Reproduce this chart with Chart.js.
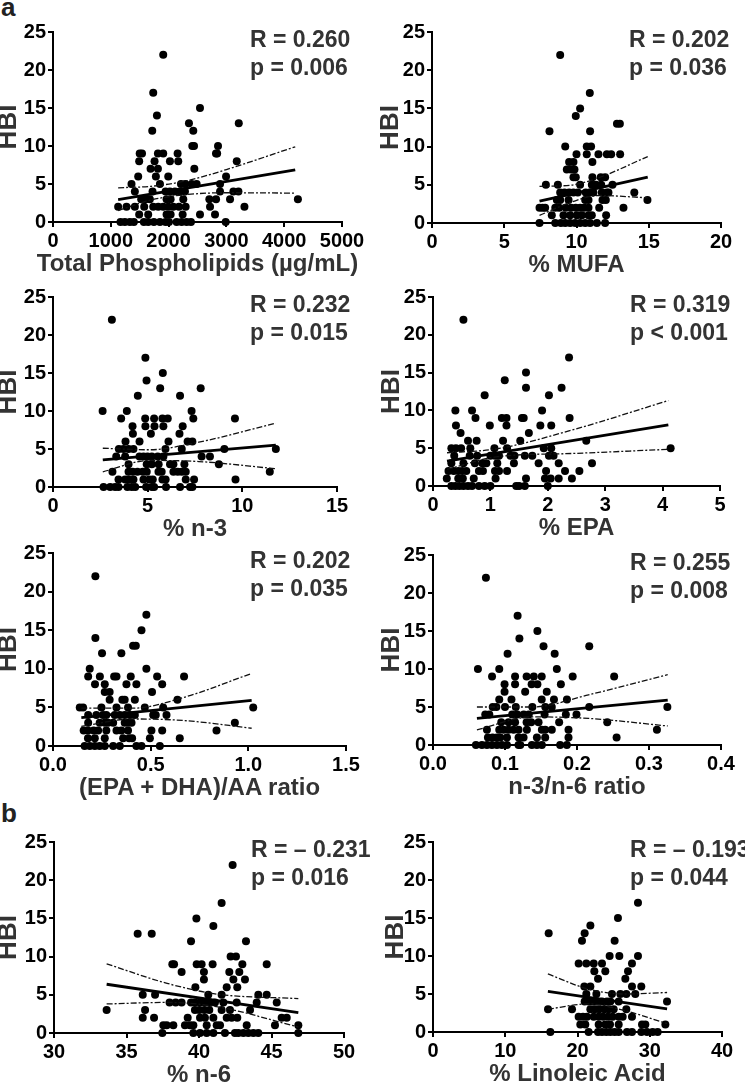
<!DOCTYPE html>
<html>
<head>
<meta charset="utf-8">
<script src="https://cdn.jsdelivr.net/npm/chart.js@4"></script>
<style>
  body { margin: 0; width: 745px; height: 1082px; overflow: hidden; background: #fff; position: relative;
         font-family: "Liberation Sans", Arial, sans-serif; }
  canvas { position: absolute; }
  .stat { position: absolute; font-weight: bold; font-size: 23px; line-height: 28px; color: #333; white-space: nowrap; }
  .xtitle { position: absolute; font-weight: bold; font-size: 24px; line-height: 24px; color: #333;
            white-space: nowrap; transform: translateX(-50%); }
  .tag { position: absolute; font-weight: bold; font-size: 26px; line-height: 26px; color: #222; }
</style>
</head>
<body>
<div class="tag" style="left:1px; top:-6px">a</div>
<div class="tag" style="left:1px; top:800px">b</div>

<script>
// ---- HBI values and the fatty acid measures they are plotted against ----

// Total phospholipids (ug/mL)
const phosX = [1907, 1734, 2543, 1798, 2352, 3214, 1717, 2427, 2410, 2440, 2855,
  1500, 1540, 1815, 1907, 2156, 2820, 2840,
  1491, 1757, 2023, 2167, 3179,
  1688, 1815, 2445,
  1474, 1780, 1994, 2994,
  1358, 1850, 2214, 2289, 2399, 2485, 2890,
  1416, 1722, 1948, 2023, 2110, 2196, 2283, 2890, 3121, 3208,
  1526, 1601, 1676, 1965, 2035, 2254, 2705, 2821, 3063, 4237,
  1127, 1272, 1416, 1578, 1734, 1821, 1907, 1994, 2081, 2179, 2295, 2717, 3312,
  1491, 1647, 1965, 2035, 2243, 2543, 2803,
  1168, 1243, 1330, 1399, 1572, 1647, 1745, 1850, 1948, 2006, 2139, 2225, 2312, 2387, 2988];
const phosY = [22, 17, 15, 14, 13, 13, 12, 12, 10, 10, 10,
  9, 9, 9, 9, 9, 9, 9,
  8, 8, 8, 8, 8,
  7, 7, 7,
  6, 6, 6, 6,
  5, 5, 5, 5, 5, 5, 5,
  4, 4, 4, 4, 4, 4, 4, 4, 4, 4,
  3, 3, 3, 3, 3, 3, 3, 3, 3, 3,
  2, 2, 2, 2, 2, 2, 2, 2, 2, 2, 2, 2, 2,
  1, 1, 1, 1, 1, 1, 1,
  0, 0, 0, 0, 0, 0, 0, 0, 0, 0, 0, 0, 0, 0, 0];
const phosFitX = [1127, 4191];
const phosFitY = [2.95, 6.86];
const phosBandX = [1127, 1700, 2300, 3000, 4191];
const phosUpY = [4.5, 4.7, 5.4, 6.9, 9.9];
const phosLoY = [1.5, 2.9, 3.6, 3.85, 3.8];

// % MUFA
const mufaX = [8.87, 10.92, 10.25, 9.95, 12.8, 13.0, 8.13, 10.94, 9.22, 10.71, 11.01,
  10.0, 10.71, 11.52, 12.1, 12.4, 13.02,
  9.49, 9.79, 11.1,
  9.33, 9.61, 9.86,
  9.79, 9.95, 11.1, 11.68, 11.98,
  7.88, 8.71, 10.25, 11.06, 11.34, 11.71, 12.49,
  8.87, 9.17, 9.49, 9.79, 10.09, 10.64, 10.94, 11.17, 11.75, 12.1, 12.21, 14.0,
  8.64, 8.87, 9.45, 10.6, 10.83, 11.8, 12.03, 14.91,
  7.44, 7.65, 7.83, 8.53, 8.8, 9.26, 9.63, 9.95, 10.25, 10.53, 10.83, 11.57, 13.25,
  8.29, 9.1, 9.56, 10.02, 10.37, 10.83, 11.06, 12.05,
  7.44, 8.53, 8.92, 9.22, 9.56, 9.91, 10.25, 10.6, 10.94, 11.41, 11.98];
const mufaY = [22, 17, 15, 14, 13, 13, 12, 12, 10, 10, 10,
  9, 9, 9, 9, 9, 9,
  8, 8, 8,
  7, 7, 7,
  6, 6, 6, 6, 6,
  5, 5, 5, 5, 5, 5, 5,
  4, 4, 4, 4, 4, 4, 4, 4, 4, 4, 4, 4,
  3, 3, 3, 3, 3, 3, 3, 3,
  2, 2, 2, 2, 2, 2, 2, 2, 2, 2, 2, 2, 2,
  1, 1, 1, 1, 1, 1, 1, 1,
  0, 0, 0, 0, 0, 0, 0, 0, 0, 0, 0];
const mufaFitX = [7.44, 14.93];
const mufaFitY = [2.85, 6.0];
const mufaBandX = [7.44, 9.6, 11.5, 14.93];
const mufaUpY = [4.8, 4.95, 5.9, 8.7];
const mufaLoY = [1.0, 2.7, 3.6, 3.3];

// % n-3
const n3X = [3.11, 4.88, 5.8, 4.94, 5.66, 7.8, 4.48, 6.71, 2.62, 3.9, 7.32,
  3.6, 4.87, 5.34, 5.78, 6.06, 7.41, 9.61,
  4.2, 4.88, 5.36, 5.83, 6.85,
  4.22, 5.17, 6.68,
  3.83, 4.57, 6.1, 7.11, 7.36,
  3.48, 3.72, 3.99, 4.25, 5.94, 6.8, 9.05, 11.77,
  3.34, 3.81, 4.57, 4.78, 4.99, 5.22, 5.53, 5.83, 7.85, 8.29,
  3.99, 4.95, 5.22, 5.58, 6.18, 6.36, 6.94, 8.76,
  3.14, 3.99, 4.21, 4.46, 4.74, 4.95, 5.57, 5.74, 6.36, 6.59, 6.8, 7.01, 11.45,
  3.46, 3.81, 3.99, 4.25, 4.78, 5.09, 5.27, 5.78, 5.95, 7.01, 7.45, 9.64,
  2.67, 3.02, 3.28, 3.46, 3.93, 4.16, 4.34, 4.92, 5.22, 5.34, 5.97, 6.71, 7.24, 7.36];
const n3Y = [22, 17, 15, 14, 13, 13, 12, 12, 10, 10, 10,
  9, 9, 9, 9, 9, 9, 9,
  8, 8, 8, 8, 8,
  7, 7, 7,
  6, 6, 6, 6, 6,
  5, 5, 5, 5, 5, 5, 5, 5,
  4, 4, 4, 4, 4, 4, 4, 4, 4, 4,
  3, 3, 3, 3, 3, 3, 3, 3,
  2, 2, 2, 2, 2, 2, 2, 2, 2, 2, 2, 2, 2,
  1, 1, 1, 1, 1, 1, 1, 1, 1, 1, 1, 1,
  0, 0, 0, 0, 0, 0, 0, 0, 0, 0, 0, 0, 0, 0];
const n3FitX = [2.63, 11.77];
const n3FitY = [3.57, 5.52];
const n3BandX = [2.63, 5.1, 7.7, 11.77];
const n3UpY = [5.1, 4.9, 5.9, 8.4];
const n3LoY = [2.0, 3.5, 3.35, 2.4];

// % EPA
const epaX = [0.53, 2.37, 1.62, 1.25, 1.62, 2.24, 0.9, 2.02, 0.39, 0.68, 1.9,
  0.74, 1.2, 1.28, 1.55, 1.58, 2.38,
  0.4, 0.99, 1.28, 1.87, 2.06,
  0.48, 1.67,
  0.61, 0.76, 1.22, 1.52, 2.67,
  0.32, 0.4, 0.49, 0.65, 1.07, 1.29, 1.93, 2.06, 4.14,
  0.37, 0.64, 0.77, 1.0, 1.08, 1.15, 1.35, 1.42, 1.6, 1.73, 2.02, 2.1,
  0.32, 0.53, 0.73, 0.86, 0.93, 1.12, 1.41, 1.84, 2.19, 2.77,
  0.27, 0.36, 0.44, 0.51, 0.58, 0.8, 0.87, 1.08, 1.15, 1.29, 1.97, 2.3, 2.55,
  0.24, 0.44, 0.52, 0.71, 1.09, 1.62, 1.95, 2.05, 2.19, 2.42,
  0.32, 0.39, 0.46, 0.53, 0.61, 0.68, 0.8, 0.9, 1.0, 1.45, 1.5, 1.6, 2.0];
const epaY = [22, 17, 15, 14, 13, 13, 12, 12, 10, 10, 10,
  9, 9, 9, 9, 9, 9,
  8, 8, 8, 8, 8,
  7, 7,
  6, 6, 6, 6, 6,
  5, 5, 5, 5, 5, 5, 5, 5, 5,
  4, 4, 4, 4, 4, 4, 4, 4, 4, 4, 4, 4,
  3, 3, 3, 3, 3, 3, 3, 3, 3, 3,
  2, 2, 2, 2, 2, 2, 2, 2, 2, 2, 2, 2, 2,
  1, 1, 1, 1, 1, 1, 1, 1, 1, 1,
  0, 0, 0, 0, 0, 0, 0, 0, 0, 0, 0, 0, 0];
const epaFitX = [0.244, 4.1];
const epaFitY = [3.3, 8.1];
const epaBandX = [0.244, 1.1, 2.42, 4.1];
const epaUpY = [4.4, 4.9, 7.4, 11.3];
const epaLoY = [2.2, 3.85, 4.3, 4.85];

// (EPA + DHA)/AA ratio
const ratioX = [0.217, 0.478, 0.453, 0.217, 0.41, 0.424, 0.251, 0.35, 0.188, 0.478,
  0.18, 0.24, 0.313, 0.325, 0.398, 0.533, 0.671,
  0.215, 0.265, 0.376, 0.427, 0.559,
  0.265, 0.29, 0.507,
  0.29, 0.355, 0.367, 0.419, 0.637,
  0.137, 0.154, 0.248, 0.325, 0.384, 0.47, 0.564, 1.025,
  0.18, 0.222, 0.256, 0.273, 0.316, 0.342, 0.367, 0.393, 0.419, 0.513, 0.526, 0.581,
  0.18, 0.239, 0.265, 0.282, 0.308, 0.367, 0.384, 0.402, 0.931,
  0.157, 0.179, 0.208, 0.231, 0.273, 0.325, 0.35, 0.384, 0.504, 0.559, 0.837,
  0.179, 0.214, 0.265, 0.359, 0.39, 0.405, 0.496, 0.649,
  0.162, 0.188, 0.214, 0.239, 0.265, 0.308, 0.342, 0.427, 0.453, 0.547];
const ratioY = [22, 17, 15, 14, 13, 13, 12, 12, 10, 10,
  9, 9, 9, 9, 9, 9, 9,
  8, 8, 8, 8, 8,
  7, 7, 7,
  6, 6, 6, 6, 6,
  5, 5, 5, 5, 5, 5, 5, 5,
  4, 4, 4, 4, 4, 4, 4, 4, 4, 4, 4, 4,
  3, 3, 3, 3, 3, 3, 3, 3, 3,
  2, 2, 2, 2, 2, 2, 2, 2, 2, 2, 2,
  1, 1, 1, 1, 1, 1, 1, 1,
  0, 0, 0, 0, 0, 0, 0, 0, 0, 0];
const ratioFitX = [0.145, 1.017];
const ratioFitY = [3.67, 5.9];
const ratioBandX = [0.145, 0.41, 0.67, 1.017];
const ratioUpY = [4.9, 4.9, 6.3, 9.4];
const ratioLoY = [2.55, 3.5, 3.3, 2.3];

// n-3/n-6 ratio
const n3n6X = [0.0735, 0.1175, 0.145, 0.12, 0.1535, 0.217, 0.1036, 0.169, 0.0624, 0.092, 0.172,
  0.082, 0.114, 0.13, 0.14, 0.151, 0.194, 0.2516,
  0.0994, 0.114, 0.137, 0.145, 0.1776,
  0.0994, 0.128, 0.158,
  0.092, 0.109, 0.151, 0.168, 0.186,
  0.083, 0.088, 0.1, 0.115, 0.138, 0.156, 0.165, 0.217, 0.3255,
  0.0726, 0.0782, 0.11, 0.117, 0.126, 0.133, 0.155, 0.1845, 0.1993,
  0.0948, 0.105, 0.114, 0.13, 0.1364, 0.1466, 0.1752, 0.242,
  0.0749, 0.092, 0.098, 0.1049, 0.1119, 0.1188, 0.1304, 0.1512, 0.1558, 0.165, 0.1882, 0.311,
  0.0763, 0.0828, 0.0888, 0.0934, 0.1027, 0.1188, 0.1258, 0.1443, 0.1558, 0.1882, 0.255,
  0.0596, 0.068, 0.0749, 0.0819, 0.0888, 0.0957, 0.1027, 0.1188, 0.1212, 0.1373, 0.1443, 0.1512, 0.1766, 0.1859];
const n3n6Y = [22, 17, 15, 14, 13, 13, 12, 12, 10, 10, 10,
  9, 9, 9, 9, 9, 9, 9,
  8, 8, 8, 8, 8,
  7, 7, 7,
  6, 6, 6, 6, 6,
  5, 5, 5, 5, 5, 5, 5, 5, 5,
  4, 4, 4, 4, 4, 4, 4, 4, 4,
  3, 3, 3, 3, 3, 3, 3, 3,
  2, 2, 2, 2, 2, 2, 2, 2, 2, 2, 2, 2,
  1, 1, 1, 1, 1, 1, 1, 1, 1, 1, 1,
  0, 0, 0, 0, 0, 0, 0, 0, 0, 0, 0, 0, 0, 0];
const n3n6FitX = [0.061, 0.326];
const n3n6FitY = [3.5, 5.9];
const n3n6BandX = [0.061, 0.138, 0.216, 0.326];
const n3n6UpY = [5.0, 5.0, 6.6, 9.25];
const n3n6LoY = [2.0, 3.7, 3.5, 2.5];

// % n-6
const n6X = [42.32, 41.56, 39.82, 40.99, 35.77, 36.74, 39.45, 43.24, 42.18, 42.55,
  38.16, 38.28, 39.84, 40.18, 40.94, 42.99, 44.67,
  38.8, 40.34, 42.09, 42.78,
  40.34, 42.37, 43.17,
  39.75, 41.91, 42.64,
  36.12, 36.97, 40.64, 41.56, 44.09, 44.67,
  37.97, 38.39, 38.8, 39.45, 39.72, 40.07, 40.41, 40.76, 41.1, 41.68, 42.6, 43.98, 45.36,
  33.63, 36.28, 39.72, 40.02, 40.37, 40.71, 41.56, 42.14, 43.52,
  36.12, 36.9, 39.22, 40.07, 40.41, 40.99, 41.91, 42.25, 42.64, 45.7, 46.05,
  37.54, 37.77, 38.23, 39.03, 39.38, 39.61, 40.53, 41.22, 41.45, 43.29, 45.24, 46.85,
  37.47, 39.61, 40.07, 40.53, 40.99, 41.79, 42.48, 42.71, 43.06, 43.4, 43.75, 44.09, 46.85];
const n6Y = [22, 17, 15, 14, 13, 13, 12, 12, 10, 10,
  9, 9, 9, 9, 9, 9, 9,
  8, 8, 8, 8,
  7, 7, 7,
  6, 6, 6,
  5, 5, 5, 5, 5, 5,
  4, 4, 4, 4, 4, 4, 4, 4, 4, 4, 4, 4, 4,
  3, 3, 3, 3, 3, 3, 3, 3, 3,
  2, 2, 2, 2, 2, 2, 2, 2, 2, 2, 2,
  1, 1, 1, 1, 1, 1, 1, 1, 1, 1, 1, 1,
  0, 0, 0, 0, 0, 0, 0, 0, 0, 0, 0, 0, 0];
const n6FitX = [33.63, 46.85];
const n6FitY = [6.38, 2.67];
const n6BandX = [33.63, 37.8, 41.2, 46.85];
const n6UpY = [9.05, 6.5, 5.1, 4.5];
const n6LoY = [3.8, 4.0, 3.45, 0.78];

// % Linoleic acid
const laX = [28.37, 25.6, 21.78, 16.01, 20.99, 20.62, 25.14, 24.45, 25.79, 28.37,
  20.16, 21.22, 22.24, 23.39, 27.54,
  22.33, 23.85, 26.99,
  22.84, 26.62,
  20.94, 21.78, 27.54, 28.83,
  21.22, 22.61, 24.77, 25.93, 26.76, 28.0,
  20.99, 21.54, 22.14, 22.7, 23.39, 24.08, 24.54, 25.7, 32.39,
  15.92, 19.24, 21.78, 22.38, 23.0, 23.7, 24.31, 25.01, 26.76,
  20.16, 20.76, 21.31, 22.24, 22.93, 23.53, 24.22, 24.86, 25.7, 26.25, 27.54,
  20.39, 21.08, 22.93, 23.85, 24.5, 25.7, 28.93, 29.39, 32.16,
  16.24, 21.54, 22.84, 23.39, 23.99, 24.54, 25.14, 25.7, 26.85, 27.54, 28.83, 29.62, 30.4, 31.09];
const laY = [17, 15, 14, 13, 13, 12, 12, 10, 10, 10,
  9, 9, 9, 9, 9,
  8, 8, 8,
  7, 7,
  6, 6, 6, 6,
  5, 5, 5, 5, 5, 5,
  4, 4, 4, 4, 4, 4, 4, 4, 4,
  3, 3, 3, 3, 3, 3, 3, 3, 3,
  2, 2, 2, 2, 2, 2, 2, 2, 2, 2, 2,
  1, 1, 1, 1, 1, 1, 1, 1, 1,
  0, 0, 0, 0, 0, 0, 0, 0, 0, 0, 0, 0, 0, 0];
const laFitX = [15.9, 32.4];
const laFitY = [5.35, 3.04];
const laBandX = [15.9, 21.5, 26.6, 32.4];
const laUpY = [7.65, 5.65, 5.0, 5.2];
const laLoY = [3.0, 3.7, 2.8, 1.1];

// y axis is the same everywhere
const hbiMin = 0, hbiMax = 25, hbiStep = 5;

// ---- panel layout: plot box in page pixels, axis range, labels ----
const panels = [
  { L: 53,  T: 30,  R: 342, B: 222,  hbiPad: 3,  xMin: 0,  xMax: 5000, xStep: 1000, dec: 0,
    xTitle: 'Total Phospholipids (µg/mL)', stat: ['R = 0.260', 'p = 0.006'],
    xs: phosX, ys: phosY, fitX: phosFitX, fitY: phosFitY, bandX: phosBandX, upY: phosUpY, loY: phosLoY },
  { L: 432, T: 30,  R: 721, B: 223,  hbiPad: 6,  xMin: 0,  xMax: 20,   xStep: 5,    dec: 0,
    xTitle: '% MUFA', stat: ['R = 0.202', 'p = 0.036'],
    xs: mufaX, ys: mufaY, fitX: mufaFitX, fitY: mufaFitY, bandX: mufaBandX, upY: mufaUpY, loY: mufaLoY },
  { L: 53,  T: 295, R: 337, B: 487,  hbiPad: 3,  xMin: 0,  xMax: 15,   xStep: 5,    dec: 0,
    xTitle: '% n-3', stat: ['R = 0.232', 'p = 0.015'],
    xs: n3X, ys: n3Y, fitX: n3FitX, fitY: n3FitY, bandX: n3BandX, upY: n3UpY, loY: n3LoY },
  { L: 433, T: 295, R: 720, B: 486,  hbiPad: 6,  xMin: 0,  xMax: 5,    xStep: 1,    dec: 0,
    xTitle: '% EPA', stat: ['R = 0.319', 'p < 0.001'],
    xs: epaX, ys: epaY, fitX: epaFitX, fitY: epaFitY, bandX: epaBandX, upY: epaUpY, loY: epaLoY },
  { L: 53,  T: 551, R: 346, B: 746,  hbiPad: 3,  xMin: 0,  xMax: 1.5,  xStep: 0.5,  dec: 1,
    xTitle: '(EPA + DHA)/AA ratio', stat: ['R = 0.202', 'p = 0.035'],
    xs: ratioX, ys: ratioY, fitX: ratioFitX, fitY: ratioFitY, bandX: ratioBandX, upY: ratioUpY, loY: ratioLoY },
  { L: 433, T: 553, R: 721, B: 745,  hbiPad: 6,  xMin: 0,  xMax: 0.4,  xStep: 0.1,  dec: 1,
    xTitle: 'n-3/n-6 ratio', stat: ['R = 0.255', 'p = 0.008'],
    xs: n3n6X, ys: n3n6Y, fitX: n3n6FitX, fitY: n3n6FitY, bandX: n3n6BandX, upY: n3n6UpY, loY: n3n6LoY },
  { L: 54,  T: 840, R: 344, B: 1033, hbiPad: 2,  xMin: 30, xMax: 50,   xStep: 5,    dec: 0,
    xTitle: '% n-6', stat: ['R = – 0.231', 'p = 0.016'],
    xs: n6X, ys: n6Y, fitX: n6FitX, fitY: n6FitY, bandX: n6BandX, upY: n6UpY, loY: n6LoY },
  { L: 433, T: 840, R: 722, B: 1032, hbiPad: 10, xMin: 0,  xMax: 40,   xStep: 10,   dec: 0,
    xTitle: '% Linoleic Acid', stat: ['R = – 0.193', 'p = 0.044'],
    xs: laX, ys: laY, fitX: laFitX, fitY: laFitY, bandX: laBandX, upY: laUpY, loY: laLoY }
];

Chart.defaults.font.family = '"Liberation Sans", Arial, sans-serif';

const Y_AXIS_W = 60;   // room left of the plot for ticks + HBI
const X_AXIS_H = 30;   // room below the plot for tick marks + labels
const PAD_TOP = 12;
const PAD_RIGHT = 25;

function toPoints(xs, ys) {
  return xs.map(function(x, i) { return { x: x, y: ys[i] }; });
}

function bandStyle(data) {
  return {
    type: 'line', data: data, borderColor: '#111', borderWidth: 1.3,
    borderDash: [6, 2, 2, 2], pointRadius: 0, tension: 0.4, cubicInterpolationMode: 'monotone',
    fill: false, clip: false
  };
}

function addDiv(cls, left, top, html) {
  const d = document.createElement('div');
  d.className = cls;
  d.style.left = left + 'px';
  d.style.top = top + 'px';
  d.innerHTML = html;
  document.body.appendChild(d);
}

panels.forEach(function(p) {
  const w = (p.R - p.L) + Y_AXIS_W + PAD_RIGHT;
  const h = (p.B - p.T) + PAD_TOP + X_AXIS_H;

  const canvas = document.createElement('canvas');
  canvas.width = w;
  canvas.height = h;
  canvas.style.left = (p.L - Y_AXIS_W) + 'px';
  canvas.style.top = (p.T - PAD_TOP) + 'px';
  canvas.style.width = w + 'px';
  canvas.style.height = h + 'px';
  document.body.appendChild(canvas);

  // R / p annotation in the top right corner, x-axis title under the ticks
  addDiv('stat', p.L + 197, p.T - 5, p.stat[0] + '<br>' + p.stat[1]);
  addDiv('xtitle', (p.L + p.R) / 2, p.B + 29, p.xTitle);

  new Chart(canvas.getContext('2d'), {
    type: 'scatter',
    data: {
      datasets: [
        {
          type: 'line', data: toPoints(p.fitX, p.fitY), borderColor: '#000', borderWidth: 2.8,
          pointRadius: 0, fill: false, clip: false
        },
        bandStyle(toPoints(p.bandX, p.upY)),
        bandStyle(toPoints(p.bandX, p.loY)),
        {
          data: toPoints(p.xs, p.ys), backgroundColor: '#000', borderColor: '#000',
          pointRadius: 4, borderWidth: 0, clip: false
        }
      ]
    },
    options: {
      responsive: false,
      animation: false,
      events: [],
      layout: { padding: { top: PAD_TOP, right: PAD_RIGHT, left: 0, bottom: 0 } },
      plugins: { legend: { display: false }, tooltip: { enabled: false } },
      scales: {
        x: {
          type: 'linear', min: p.xMin, max: p.xMax,
          ticks: {
            stepSize: p.xStep, color: '#000', autoSkip: false, maxRotation: 0, padding: 2,
            font: { size: 20, weight: 'bold' },
            callback: function(v) { return Number(v).toFixed(p.dec); }
          },
          grid: { drawOnChartArea: false, tickLength: 5, color: '#000', lineWidth: 2 },
          border: { color: '#000', width: 2 },
          title: { display: false },
          afterFit: function(s) { s.height = X_AXIS_H; }
        },
        y: {
          type: 'linear', min: hbiMin, max: hbiMax,
          ticks: {
            stepSize: hbiStep, color: '#000', padding: 2,
            font: { size: 20, weight: 'bold' }
          },
          grid: { drawOnChartArea: false, tickLength: 5, color: '#000', lineWidth: 2 },
          border: { color: '#000', width: 2 },
          title: {
            display: true, text: 'HBI', color: '#333',
            font: { size: 26, weight: 'bold', lineHeight: 1 }, padding: { top: p.hbiPad, bottom: 0 }
          },
          afterFit: function(s) { s.width = Y_AXIS_W; }
        }
      }
    }
  });
});
</script>
</body>
</html>
